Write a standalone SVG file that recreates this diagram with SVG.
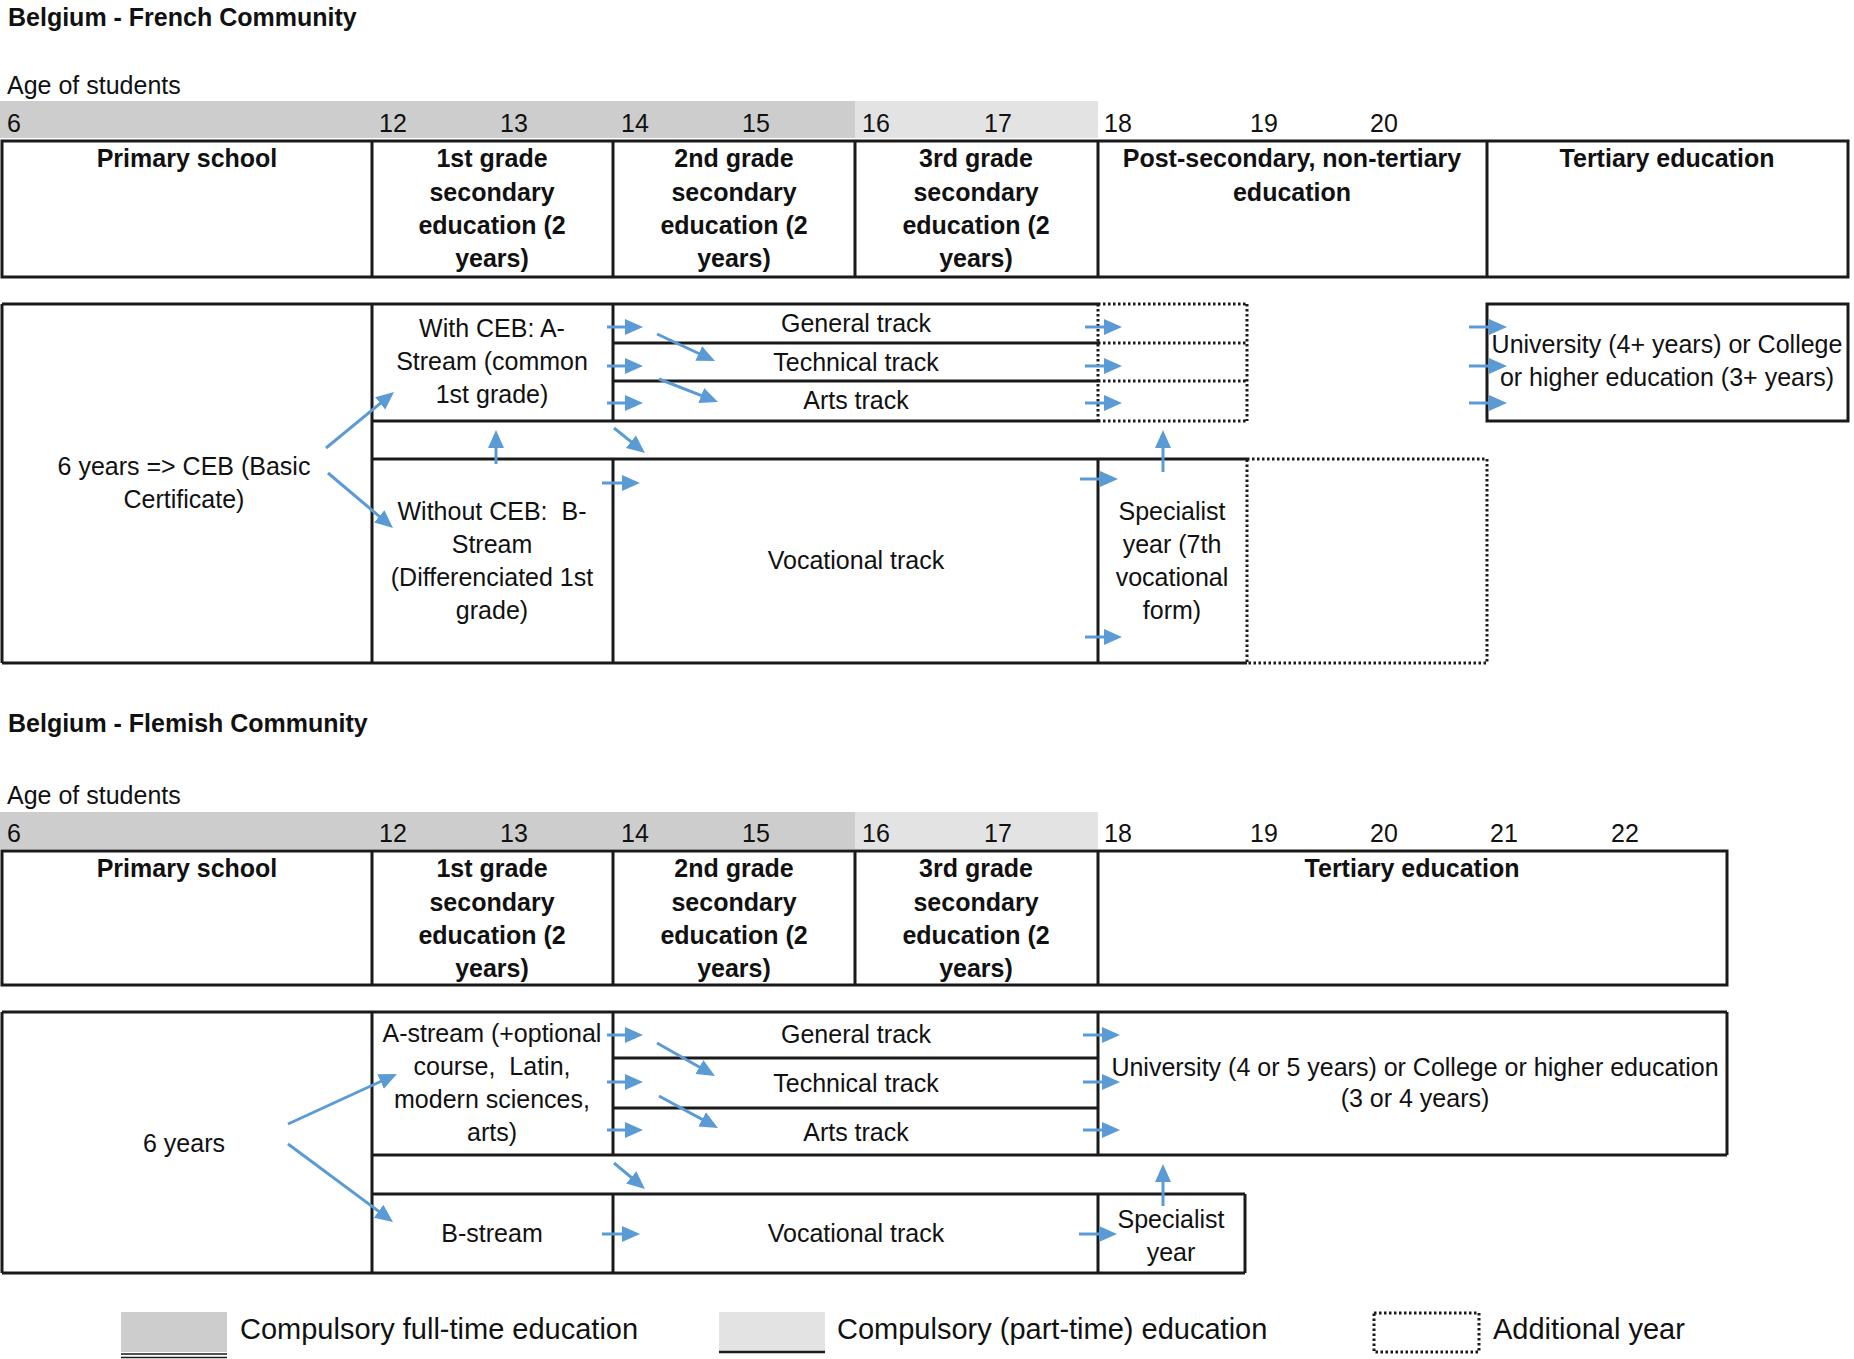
<svg xmlns="http://www.w3.org/2000/svg" width="1854" height="1359" viewBox="0 0 1854 1359">
<style>
.t{font-family:"Liberation Sans",Arial,sans-serif;font-size:25px;fill:#111}
.b{font-weight:bold}
.m{text-anchor:middle}
.lg{font-size:29px}
.ln{stroke:#1a1a1a;stroke-width:3;fill:none}
.dt{stroke:#1a1a1a;stroke-width:3;stroke-dasharray:2.5 2.5;fill:none}
.ar{stroke:#5b9bd5;stroke-width:3;fill:none;marker-end:url(#ah)}
</style>
<defs>
<marker id="ah" markerUnits="userSpaceOnUse" markerWidth="18" markerHeight="18" viewBox="0 0 18 18" refX="12" refY="9" orient="auto"><path d="M0,1 L18,9 L0,17 z" fill="#5b9bd5"/></marker>
</defs>
<rect width="1854" height="1359" fill="#fff"/>

<!-- ===== French Community ===== -->
<g id="french-heading">
<text class="t b" x="8" y="26">Belgium - French Community</text>
<text class="t" x="7" y="94">Age of students</text>
<rect x="0" y="101" width="855" height="37" fill="#cdcdcd"/>
<rect x="855" y="101" width="243" height="37" fill="#e3e3e3"/>
<text class="t" y="132"><tspan x="7">6</tspan><tspan x="379">12</tspan><tspan x="500">13</tspan><tspan x="621">14</tspan><tspan x="742">15</tspan><tspan x="862">16</tspan><tspan x="984">17</tspan><tspan x="1104">18</tspan><tspan x="1250">19</tspan><tspan x="1370">20</tspan></text>
</g>
<g id="f-header">
<rect class="ln" x="2" y="141" width="1846" height="136"/>
<path class="ln" d="M372,141V277M613,141V277M855,141V277M1098,141V277M1487,141V277"/>
<text class="t b m" x="187" y="167">Primary school</text>
<text class="t b m" x="492"><tspan x="492" y="167">1st grade</tspan><tspan x="492" y="200.5">secondary</tspan><tspan x="492" y="234">education (2</tspan><tspan x="492" y="267">years)</tspan></text>
<text class="t b m" x="734"><tspan x="734" y="167">2nd grade</tspan><tspan x="734" y="200.5">secondary</tspan><tspan x="734" y="234">education (2</tspan><tspan x="734" y="267">years)</tspan></text>
<text class="t b m" x="976"><tspan x="976" y="167">3rd grade</tspan><tspan x="976" y="200.5">secondary</tspan><tspan x="976" y="234">education (2</tspan><tspan x="976" y="267">years)</tspan></text>
<text class="t b m" x="1292"><tspan x="1292" y="167">Post-secondary, non-tertiary</tspan><tspan x="1292" y="200.5">education</tspan></text>
<text class="t b m" x="1667" y="167">Tertiary education</text>
</g>
<g id="f-grid">
<path class="ln" d="M2,304H1098M2,663H1247M2,304V663M372,304V663M613,304V421M613,459V663M613,343H1098M613,381H1098M372,421H1098M372,459H1247M1098,459V663"/>
<path class="dt" d="M1098,304V421M1098,304H1247M1098,343H1247M1098,381H1247M1098,421H1247M1247,304V421"/>
</g>
<g id="f-primary"><text class="t m" x="184"><tspan x="184" y="475">6 years =&gt; CEB (Basic</tspan><tspan x="184" y="508">Certificate)</tspan></text></g>
<g id="f-astream"><text class="t m" x="492"><tspan x="492" y="337">With CEB: A-</tspan><tspan x="492" y="370">Stream (common</tspan><tspan x="492" y="403">1st grade)</tspan></text></g>
<g id="f-bstream"><text class="t m" x="492"><tspan x="492" y="520">Without CEB:&#160; B-</tspan><tspan x="492" y="553">Stream</tspan><tspan x="492" y="586">(Differenciated 1st</tspan><tspan x="492" y="619">grade)</tspan></text></g>
<g id="f-general"><text class="t m" x="856" y="332">General track</text></g>
<g id="f-technical"><text class="t m" x="856" y="371">Technical track</text></g>
<g id="f-arts"><text class="t m" x="856" y="409">Arts track</text></g>
<g id="f-vocational"><text class="t m" x="856" y="569">Vocational track</text></g>
<g id="f-specialist"><text class="t m" x="1172"><tspan x="1172" y="520">Specialist</tspan><tspan x="1172" y="553">year (7th</tspan><tspan x="1172" y="586">vocational</tspan><tspan x="1172" y="619">form)</tspan></text></g>
<g id="f-additional"><rect class="dt" x="1247" y="459" width="240" height="204"/></g>
<g id="f-tertiary">
<rect class="ln" x="1487" y="304" width="361" height="117"/>
<text class="t m" x="1667"><tspan x="1667" y="353">University (4+ years) or College</tspan><tspan x="1667" y="386">or higher education (3+ years)</tspan></text>
</g>
<g id="f-connectors">
<line class="ar" x1="326" y1="448" x2="389.4" y2="395.8"/>
<line class="ar" x1="328" y1="473" x2="388.4" y2="524.1"/>
<line class="ar" x1="496" y1="464" x2="496" y2="436"/>
<line class="ar" x1="607" y1="327" x2="637" y2="327"/>
<line class="ar" x1="607" y1="366" x2="637" y2="366"/>
<line class="ar" x1="607" y1="403" x2="637" y2="403"/>
<line class="ar" x1="657" y1="334" x2="709.6" y2="358.5"/>
<line class="ar" x1="659" y1="379" x2="712.4" y2="399.8"/>
<line class="ar" x1="614" y1="428" x2="640.3" y2="449.2"/>
<line class="ar" x1="602" y1="483" x2="634" y2="483"/>
<line class="ar" x1="1085" y1="327" x2="1116" y2="327"/>
<line class="ar" x1="1085" y1="366" x2="1116" y2="366"/>
<line class="ar" x1="1085" y1="403" x2="1116" y2="403"/>
<line class="ar" x1="1080" y1="479" x2="1112" y2="479"/>
<line class="ar" x1="1085" y1="637" x2="1116" y2="637"/>
<line class="ar" x1="1163" y1="472" x2="1163" y2="436"/>
<line class="ar" x1="1469" y1="327" x2="1501" y2="327"/>
<line class="ar" x1="1469" y1="366" x2="1501" y2="366"/>
<line class="ar" x1="1469" y1="403" x2="1501" y2="403"/>
</g>

<!-- ===== Flemish Community ===== -->
<g id="flemish-heading">
<text class="t b" x="8" y="732">Belgium - Flemish Community</text>
<text class="t" x="7" y="804">Age of students</text>
<rect x="0" y="812" width="855" height="37" fill="#cdcdcd"/>
<rect x="855" y="812" width="243" height="37" fill="#e3e3e3"/>
<text class="t" y="842"><tspan x="7">6</tspan><tspan x="379">12</tspan><tspan x="500">13</tspan><tspan x="621">14</tspan><tspan x="742">15</tspan><tspan x="862">16</tspan><tspan x="984">17</tspan><tspan x="1104">18</tspan><tspan x="1250">19</tspan><tspan x="1370">20</tspan><tspan x="1490">21</tspan><tspan x="1611">22</tspan></text>
</g>
<g id="v-header">
<rect class="ln" x="2" y="851" width="1725" height="134"/>
<path class="ln" d="M372,851V985M613,851V985M855,851V985M1098,851V985"/>
<text class="t b m" x="187" y="877">Primary school</text>
<text class="t b m" x="492"><tspan x="492" y="877">1st grade</tspan><tspan x="492" y="910.5">secondary</tspan><tspan x="492" y="944">education (2</tspan><tspan x="492" y="977">years)</tspan></text>
<text class="t b m" x="734"><tspan x="734" y="877">2nd grade</tspan><tspan x="734" y="910.5">secondary</tspan><tspan x="734" y="944">education (2</tspan><tspan x="734" y="977">years)</tspan></text>
<text class="t b m" x="976"><tspan x="976" y="877">3rd grade</tspan><tspan x="976" y="910.5">secondary</tspan><tspan x="976" y="944">education (2</tspan><tspan x="976" y="977">years)</tspan></text>
<text class="t b m" x="1412" y="877">Tertiary education</text>
</g>
<g id="v-grid">
<path class="ln" d="M2,1012H1727M2,1273H1245M2,1012V1273M372,1012V1273M613,1012V1155M613,1194V1273M1098,1012V1155M1098,1194V1273M613,1058H1098M613,1108H1098M372,1155H1727M372,1194H1245M1245,1194V1273M1727,1012V1155"/>
</g>
<g id="v-primary"><text class="t m" x="184" y="1152">6 years</text></g>
<g id="v-astream"><text class="t m" x="492" xml:space="preserve"><tspan x="492" y="1042">A-stream (+optional</tspan><tspan x="492" y="1075">course,  Latin,</tspan><tspan x="492" y="1108">modern sciences,</tspan><tspan x="492" y="1141">arts)</tspan></text></g>
<g id="v-bstream"><text class="t m" x="492" y="1242">B-stream</text></g>
<g id="v-general"><text class="t m" x="856" y="1043">General track</text></g>
<g id="v-technical"><text class="t m" x="856" y="1092">Technical track</text></g>
<g id="v-arts"><text class="t m" x="856" y="1141">Arts track</text></g>
<g id="v-vocational"><text class="t m" x="856" y="1242">Vocational track</text></g>
<g id="v-specialist"><text class="t m" x="1171"><tspan x="1171" y="1228">Specialist</tspan><tspan x="1171" y="1261">year</tspan></text></g>
<g id="v-tertiary"><text class="t m" x="1415"><tspan x="1415" y="1076">University (4 or 5 years) or College or higher education</tspan><tspan x="1415" y="1107">(3 or 4 years)</tspan></text></g>
<g id="v-connectors">
<line class="ar" x1="288" y1="1124" x2="391.5" y2="1076.5"/>
<line class="ar" x1="288" y1="1144" x2="388.2" y2="1218.4"/>
<line class="ar" x1="607" y1="1035" x2="637" y2="1035"/>
<line class="ar" x1="607" y1="1082" x2="637" y2="1082"/>
<line class="ar" x1="607" y1="1130" x2="637" y2="1130"/>
<line class="ar" x1="657" y1="1043" x2="709.8" y2="1073"/>
<line class="ar" x1="659" y1="1096" x2="712.7" y2="1125.1"/>
<line class="ar" x1="614" y1="1163" x2="640.4" y2="1185.1"/>
<line class="ar" x1="602" y1="1234" x2="634" y2="1234"/>
<line class="ar" x1="1083" y1="1035" x2="1114" y2="1035"/>
<line class="ar" x1="1083" y1="1082" x2="1114" y2="1082"/>
<line class="ar" x1="1083" y1="1130" x2="1114" y2="1130"/>
<line class="ar" x1="1079" y1="1234" x2="1111" y2="1234"/>
<line class="ar" x1="1163" y1="1206" x2="1163" y2="1170"/>
</g>

<!-- ===== Legend ===== -->
<g id="legend-fulltime">
<rect x="121" y="1312" width="106" height="40" fill="#cdcdcd"/>
<path d="M121,1354H227M121,1357.5H227" stroke="#1a1a1a" stroke-width="1.4" fill="none"/>
<text class="t lg" x="240" y="1339">Compulsory full-time education</text>
</g>
<g id="legend-parttime">
<rect x="719" y="1312" width="106" height="39" fill="#e3e3e3"/>
<path d="M719,1352H825" stroke="#1a1a1a" stroke-width="2.5" fill="none"/>
<text class="t lg" x="837" y="1339">Compulsory (part-time) education</text>
</g>
<g id="legend-additional">
<rect class="dt" x="1374" y="1313" width="105" height="39"/>
<text class="t lg" x="1493" y="1339">Additional year</text>
</g>
</svg>
